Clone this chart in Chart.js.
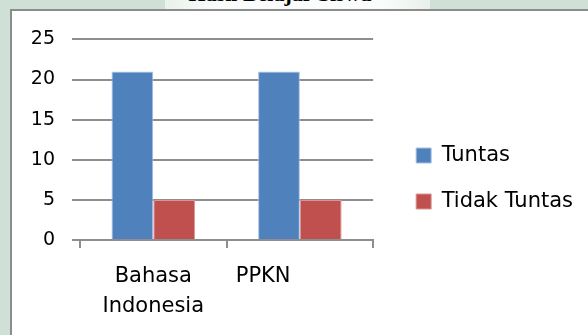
<!DOCTYPE html>
<html>
<head>
<meta charset="utf-8">
<script src="https://cdn.jsdelivr.net/npm/chart.js@4/dist/chart.umd.min.js"></script>
<style>
  html, body { margin: 0; padding: 0; }
  body {
    width: 588px; height: 335px; overflow: hidden; position: relative;
    background: #cfe1d6;
  }
  .band {
    position: absolute; left: 165px; top: 0; width: 265px; height: 9px;
    background: linear-gradient(90deg, #e9f1ec, #fbfdfc 20%, #fbfdfc 80%, #e9f1ec);
  }
  .title {
    position: absolute; left: 120px; width: 320px; top: -19px; height: 26px;
    text-align: center; font: bold 22px "Liberation Serif", serif; color: #000;
    line-height: 26px; white-space: nowrap;
  }
  .frame {
    position: absolute; left: 10px; top: 9px; width: 590px; height: 340px;
    background: #fff; border-left: 2px solid #8c8c8c; border-top: 2px solid #8c8c8c;
  }
  #wrap { position: absolute; left: 12px; top: 11px; width: 576px; height: 324px; }
</style>
</head>
<body>
<div class="band"></div>
<div class="title">Hasil Belajar Siswa</div>
<div class="frame"></div>
<div id="wrap"><canvas id="c" width="576" height="324"></canvas></div>
<script>
// Subjects and the number of students per result
// (the PPKN label carries trailing spaces so it sits left of its slot)
const categories = [['Bahasa', 'Indonesia'], 'PPKN           '];
const seriesNames = ['Tuntas', 'Tidak Tuntas'];
const tuntas = [21, 21];
const tidakTuntas = [5, 5];
const yTickValues = [0, 5, 10, 15, 20, 25];

const gridColor = '#8e8e8e';
const font = 'DejaVu Sans';

new Chart(document.getElementById('c'), {
  type: 'bar',
  data: {
    labels: categories,
    datasets: [
      { label: seriesNames[0], data: tuntas, backgroundColor: '#4F81BD',
        borderColor: '#a9c1e0', borderWidth: 1, borderSkipped: 'bottom' },
      { label: seriesNames[1], data: tidakTuntas, backgroundColor: '#C0504D',
        borderColor: '#d99694', borderWidth: 1, borderSkipped: 'bottom' }
    ]
  },
  options: {
    responsive: false,
    animation: false,
    devicePixelRatio: 1,
    layout: { padding: { top: 28, bottom: 17, left: 0, right: 5 } },
    datasets: { bar: { categoryPercentage: 0.57, barPercentage: 1 } },
    plugins: {
      tooltip: { enabled: false },
      legend: {
        position: 'right',
        maxWidth: 197,
        labels: {
          color: '#000', boxWidth: 15, boxHeight: 15, padding: 25,
          font: { family: font, size: 21 }
        }
      }
    },
    scales: {
      x: {
        grid: { display: true, drawOnChartArea: false, drawTicks: true, tickLength: 8,
                color: gridColor, lineWidth: 2 },
        border: { display: true, color: gridColor, width: 2 },
        ticks: {
          color: '#000', padding: 14, maxRotation: 0, autoSkip: false,
          font: { family: font, size: 21, lineHeight: 1.43 }
        },
        afterFit: (scale) => { scale.height = 78; }
      },
      y: {
        min: yTickValues[0], max: yTickValues[yTickValues.length - 1],
        afterBuildTicks: (scale) => { scale.ticks = yTickValues.map(v => ({ value: v })); },
        grid: { color: gridColor, lineWidth: 2, drawTicks: true, tickLength: 8 },
        border: { display: false },
        ticks: { color: '#000', padding: 17, font: { family: font, size: 19 } },
        afterFit: (scale) => { scale.width = 68; }
      },
      gap: {
        type: 'linear', position: 'right', display: true,
        grid: { display: false }, border: { display: false }, ticks: { display: false },
        afterFit: (scale) => { scale.width = 18; }
      }
    }
  }
});
</script>
</body>
</html>
